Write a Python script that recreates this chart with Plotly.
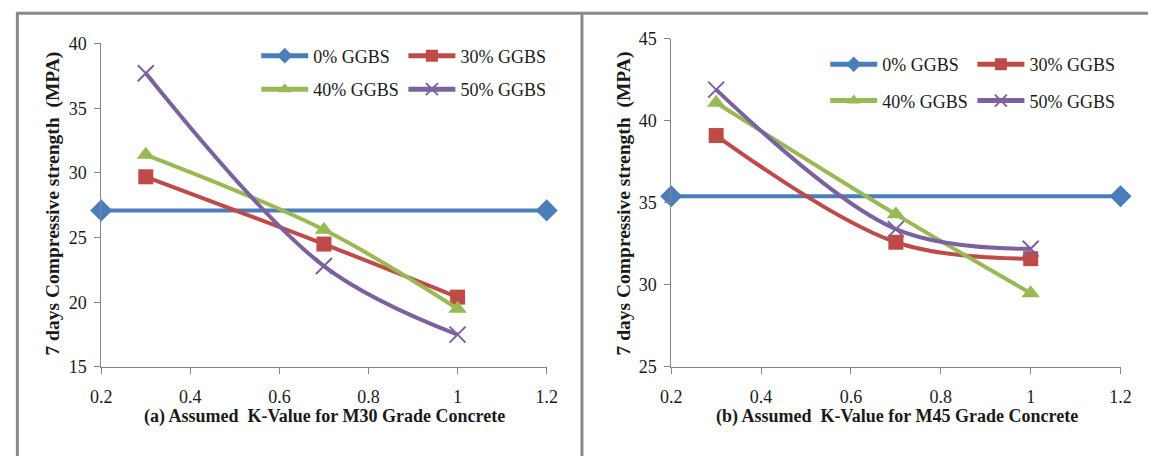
import plotly.graph_objects as go

W, H = 1159, 466

# ---------------- data ----------------
series_names = ["0% GGBS", "30% GGBS", "40% GGBS", "50% GGBS"]
k_ref = [0.2, 1.2]            # control mix drawn across the full range
k_values = [0.3, 0.7, 1.0]    # assumed K-values

m30_0 = [27.1, 27.1]
m30_30 = [29.7, 24.5, 20.4]
m30_40 = [31.4, 25.6, 19.5]
m30_50 = [37.7, 22.8, 17.5]

m45_0 = [35.4, 35.4]
m45_30 = [39.1, 32.6, 31.6]
m45_40 = [41.1, 34.3, 29.5]
m45_50 = [41.9, 33.4, 32.2]

x_tickvals = [0.2, 0.4, 0.6, 0.8, 1.0, 1.2]
x_ticktext = ["0.2", "0.4", "0.6", "0.8", "1", "1.2"]
m30_yticks = [15, 20, 25, 30, 35, 40]
m45_yticks = [25, 30, 35, 40, 45]

y_title = "7 days Compressive strength&nbsp; (MPA)"
x_title_a = "(a) Assumed&nbsp; K-Value for M30 Grade Concrete"
x_title_b = "(b) Assumed&nbsp; K-Value for M45 Grade Concrete"

# ---------------- styles ----------------
colors = ["#4A7EBB", "#BE4B48", "#98B954", "#7D60A0"]
symbols = ["diamond", "square", "triangle-up", "x-thin"]
msizes = [17, 15, 16, 16]
FONT = "Liberation Serif, Times New Roman, serif"
TXT = "#1a1a1a"


def px(x):
    return x / W


def py(y):
    return 1 - y / H


fig = go.Figure()


def add_series(xs, ys, i, xa, ya, legend_name):
    shape = "linear" if i == 0 else "spline"
    marker = dict(symbol=symbols[i], size=msizes[i], color=colors[i])
    if symbols[i] == "x-thin":
        marker["line"] = dict(color=colors[i], width=2)
    fig.add_trace(go.Scatter(
        x=xs, y=ys, mode="lines+markers", name=series_names[i],
        line=dict(color=colors[i], width=4, shape=shape),
        marker=marker, xaxis=xa, yaxis=ya, cliponaxis=False,
        legend=legend_name, showlegend=True,
    ))


panel_a = [(k_ref, m30_0), (k_values, m30_30), (k_values, m30_40), (k_values, m30_50)]
panel_b = [(k_ref, m45_0), (k_values, m45_30), (k_values, m45_40), (k_values, m45_50)]

for i, (xs, ys) in enumerate(panel_a):
    add_series(xs, ys, i, "x", "y", "legend" if i == 0 else f"legend{i+1}")
for i, (xs, ys) in enumerate(panel_b):
    add_series(xs, ys, i, "x2", "y2", f"legend{i+5}")

# legend placement (pixel positions of the line-sample start and row centre)
leg_pos_a = [(250, 48), (400, 48), (250, 83), (400, 83)]
leg_pos_b = [(830, 57), (980, 57), (830, 95), (980, 95)]
legends = {}
for j, (lx, ly) in enumerate(leg_pos_a + leg_pos_b):
    key = "legend" if j == 0 else f"legend{j+1}"
    legends[key] = dict(
        x=px(lx), y=py(ly), xanchor="left", yanchor="middle",
        bgcolor="rgba(0,0,0,0)", borderwidth=0,
        font=dict(family=FONT, size=18, color=TXT),
        itemsizing="constant", itemwidth=47,
    )

axis_common = dict(
    showline=True, linecolor="#868686", linewidth=1,
    ticks="outside", ticklen=6, tickcolor="#868686", tickwidth=1,
    showgrid=False, zeroline=False,
    tickfont=dict(family=FONT, size=18, color=TXT),
)

fig.update_layout(
    width=W, height=H,
    margin=dict(l=0, r=0, t=0, b=0),
    paper_bgcolor="white", plot_bgcolor="white",
    font=dict(family=FONT, color=TXT),
    xaxis=dict(domain=[px(92), px(546)], range=[0.2, 1.2], anchor="y",
               tickvals=x_tickvals, ticktext=x_ticktext, ticklabelstandoff=7,
               **axis_common),
    yaxis=dict(domain=[py(373), py(35)], range=[15, 40], anchor="x",
               tickvals=m30_yticks, ticklabelstandoff=4, **axis_common),
    xaxis2=dict(domain=[px(673), px(1131)], range=[0.2, 1.2], anchor="y2",
                tickvals=x_tickvals, ticktext=x_ticktext, ticklabelstandoff=7,
                **axis_common),
    yaxis2=dict(domain=[py(373), py(30)], range=[25, 45], anchor="x2",
                tickvals=m45_yticks, ticklabelstandoff=4, **axis_common),
    **legends,
)

# axis titles
title_font = dict(family=FONT, size=18, color=TXT, weight="bold")
ytitle_font = dict(family=FONT, size=19.5, color=TXT, weight="bold")
fig.add_annotation(text=x_title_a, x=px(320), y=py(425), xref="paper", yref="paper",
                   showarrow=False, font=title_font, xanchor="center", yanchor="middle")
fig.add_annotation(text=x_title_b, x=px(903), y=py(425), xref="paper", yref="paper",
                   showarrow=False, font=title_font, xanchor="center", yanchor="middle")
fig.add_annotation(text=y_title, x=px(43), y=py(202), xref="paper", yref="paper",
                   showarrow=False, font=ytitle_font, textangle=-90,
                   xanchor="center", yanchor="middle")
fig.add_annotation(text=y_title, x=px(625), y=py(202), xref="paper", yref="paper",
                   showarrow=False, font=ytitle_font, textangle=-90,
                   xanchor="center", yanchor="middle")

# panel frame lines
frame = dict(color="#8a8a8a", width=3)
fig.add_shape(type="line", xref="paper", yref="paper", x0=px(5), x1=1, y0=py(3.5), y1=py(3.5), line=frame)
fig.add_shape(type="line", xref="paper", yref="paper", x0=px(6.5), x1=px(6.5), y0=py(3), y1=0, line=frame)
fig.add_shape(type="line", xref="paper", yref="paper", x0=px(582), x1=px(582), y0=py(3), y1=0, line=frame)

fig.write_html("out.html", config={"displayModeBar": False},
               post_script="document.body.style.margin='0px';")
